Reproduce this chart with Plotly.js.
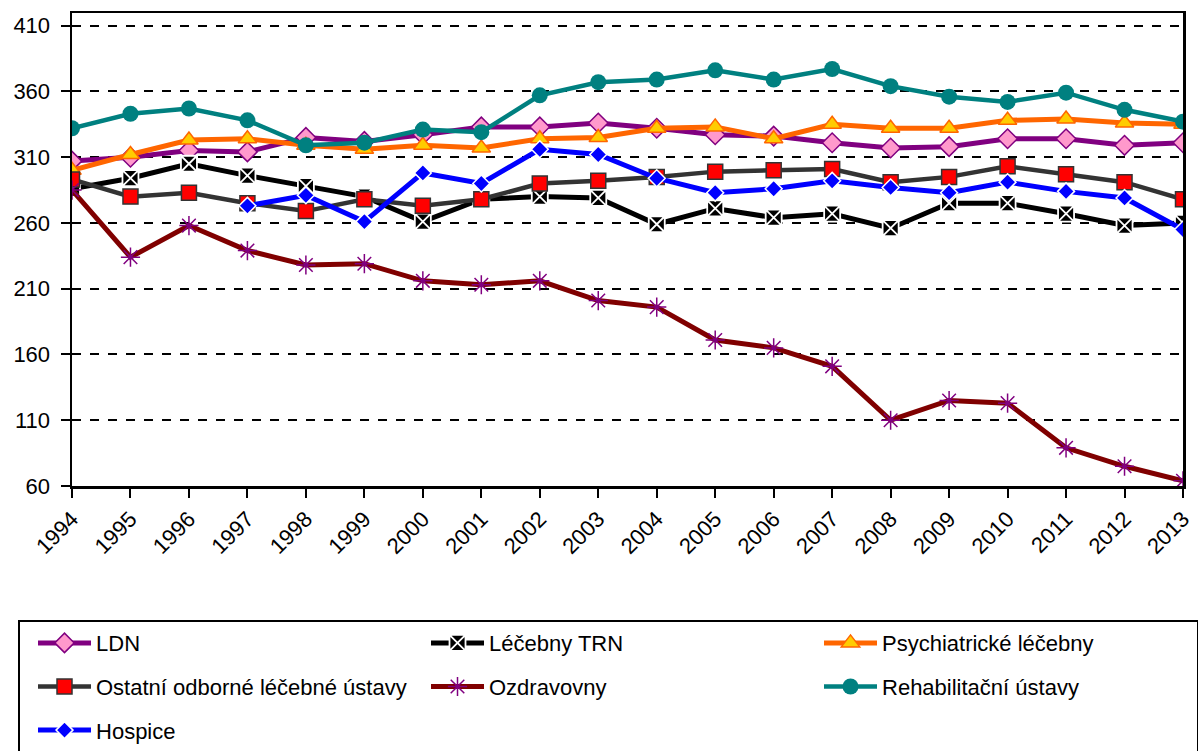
<!DOCTYPE html>
<html>
<head>
<meta charset="utf-8">
<script src="https://cdn.plot.ly/plotly-3.0.1.min.js"></script>
<style>
  html, body { margin: 0; padding: 0; background: #fff; }
  #chart { width: 1198px; height: 751px; }
</style>
</head>
<body>
<div id="chart"></div>
<script>
const years = [1994, 1995, 1996, 1997, 1998, 1999, 2000, 2001, 2002, 2003, 2004, 2005, 2006, 2007, 2008, 2009, 2010, 2011, 2012, 2013];
const yTicks = [60, 110, 160, 210, 260, 310, 360, 410];

const ldn      = [307, 310, 315, 314, 325, 322, 327, 333, 333, 336, 332, 327, 326, 321, 317, 318, 324, 324, 319, 321];
const trn      = [286, 294, 305, 296, 288, 280, 261, 278, 280, 279, 259, 271, 264, 267, 256, 275, 275, 267, 258, 260];
const psych    = [300, 312, 323, 324, 319, 316, 319, 317, 324, 325, 332, 333, 324, 335, 332, 332, 338, 339, 336, 335];
const ostatni  = [293, 280, 283, 275, 269, 278, 273, 278, 290, 292, 295, 299, 300, 301, 291, 295, 303, 297, 291, 278];
const ozdrav   = [285, 234, 258, 239, 228, 229, 216, 213, 216, 201, 196, 171, 165, 151, 110, 125, 123, 89, 75, 64];
const rehab    = [332, 343, 347, 338, 319, 321, 331, 329, 357, 367, 369, 376, 369, 377, 364, 356, 352, 359, 346, 337];
const hospice  = [null, null, null, 273, 281, 261, 298, 290, 316, 312, 294, 283, 286, 292, 287, 283, 291, 284, 279, 255];

const names = ['LDN', 'Léčebny TRN', 'Psychiatrické léčebny', 'Ostatní odborné léčebné ústavy', 'Ozdravovny', 'Rehabilitační ústavy', 'Hospice'];

const FONT = '"Liberation Sans", Arial, sans-serif';

function tr(name, y, lineColor, lineWidth, marker, group) {
  return {
    type: 'scatter', mode: 'lines+markers', name: name, x: years, y: y,
    line: { color: lineColor, width: lineWidth },
    marker: marker, legendgroup: group, connectgaps: false,
    hoverinfo: 'x+y+name'
  };
}

const data = [
  tr(names[0], ldn, '#800080', 5, { symbol: 'diamond', size: 15, color: '#FF99CC', line: { color: '#800080', width: 1.5 } }, 'g1'),
  tr(names[1], trn, '#000000', 5, { symbol: 'square-x', size: 16, color: '#000000', line: { color: '#FFFFFF', width: 1.8 } }, 'g2'),
  tr(names[2], psych, '#FF6600', 5, { symbol: 'triangle-up', size: 16, color: '#FFCC00', line: { color: '#FF6600', width: 1.5 } }, 'g3'),
  tr(names[3], ostatni, '#333333', 4.5, { symbol: 'square', size: 15, color: '#FF0000', line: { color: '#333333', width: 1.5 } }, 'g4'),
  tr(names[4], ozdrav, '#800000', 5, { symbol: 'asterisk-open', size: 16, color: '#800080', line: { color: '#800080', width: 1.5 } }, 'g5'),
  tr(names[5], rehab, '#008080', 4.5, { symbol: 'circle', size: 16, color: '#008080', line: { color: '#008080', width: 0 } }, 'g6'),
  tr(names[6], hospice, '#0000FF', 5, { symbol: 'diamond', size: 13, color: '#0000FF', line: { color: '#FFFFFF', width: 1.5 } }, 'g7')
];

const layout = {
  width: 1198, height: 751,
  margin: { l: 72, r: 15, t: 13, b: 265, autoexpand: false },
  paper_bgcolor: '#ffffff', plot_bgcolor: '#ffffff',
  font: { family: FONT, size: 22, color: '#000000' },
  showlegend: true,
  xaxis: {
    type: 'linear', range: [1994, 2013], tickmode: 'array', tickvals: years, ticktext: years.map(String),
    tickangle: -45, ticks: 'outside', ticklen: 9, tickwidth: 2, tickcolor: '#000',
    showline: true, linecolor: '#000', linewidth: 2.5, mirror: true,
    showgrid: false, zeroline: false,
    tickfont: { family: FONT, size: 22, color: '#000' }
  },
  yaxis: {
    range: [60, 419.6], tickmode: 'array', tickvals: yTicks, ticktext: yTicks.map(String),
    ticks: 'outside', ticklen: 9, tickwidth: 2, tickcolor: '#000', ticklabelstandoff: 6,
    showline: true, linecolor: '#000', linewidth: 2.5, mirror: true,
    showgrid: true, gridcolor: '#000', gridwidth: 2, griddash: 'dash', zeroline: false,
    tickfont: { family: FONT, size: 22, color: '#000' }
  },
  legend: {
    orientation: 'h', traceorder: 'grouped', tracegroupgap: 12,
    entrywidth: 310, entrywidthmode: 'pixels',
    indentation: 15, itemwidth: 53,
    x: -0.0486, xanchor: 'left', y: -0.2835, yanchor: 'top',
    bordercolor: '#000', borderwidth: 2, bgcolor: '#fff',
    font: { family: FONT, size: 22, color: '#000' },
    itemclick: false, itemdoubleclick: false
  }
};

Plotly.newPlot('chart', data, layout, { displayModeBar: false, staticPlot: true });
</script>
</body>
</html>
